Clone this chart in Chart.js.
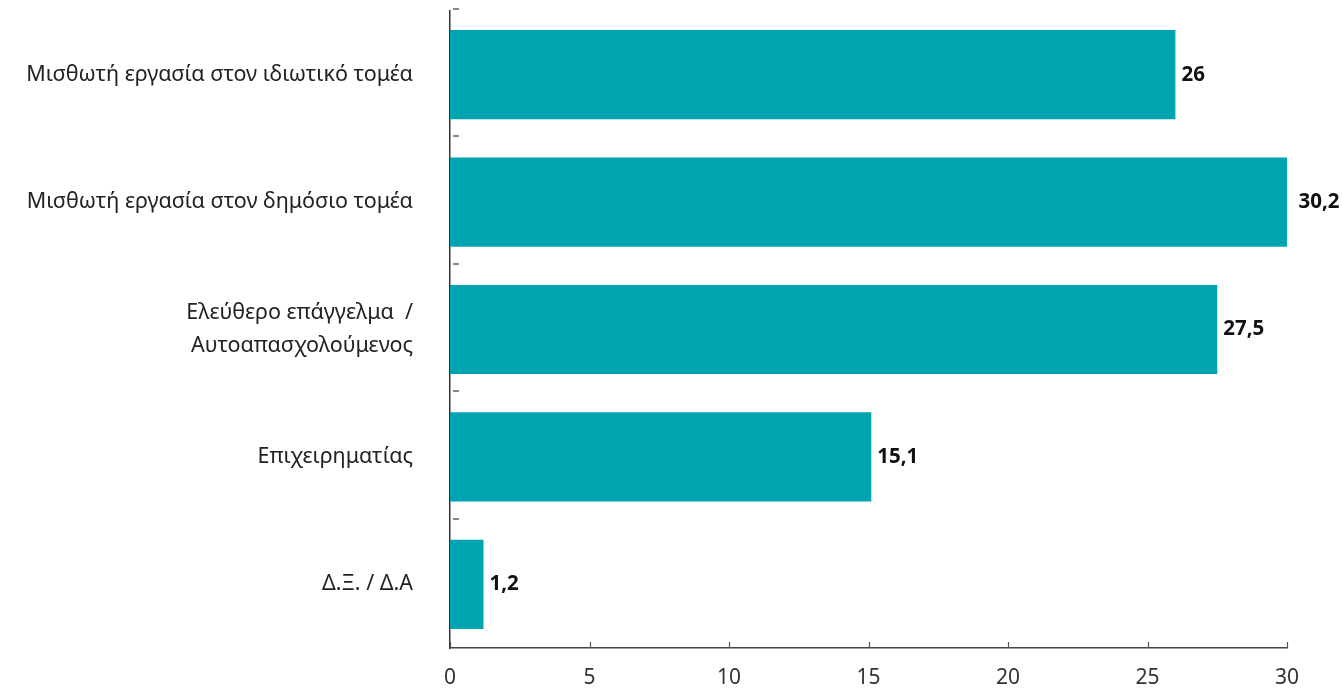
<!DOCTYPE html>
<html>
<head>
<meta charset="utf-8">
<script src="https://cdn.jsdelivr.net/npm/chart.js@4.4.1/dist/chart.umd.min.js"></script>
<style>
  html, body { margin: 0; padding: 0; background: #fff; }
  #wrap { width: 1342px; height: 693px; }
</style>
</head>
<body>
<div id="wrap"><canvas id="myChart" width="1342" height="693"></canvas></div>
<script>
// Employment type shares (%)
const categories = [
  'Μισθωτή εργασία στον ιδιωτικό τομέα',
  'Μισθωτή εργασία στον δημόσιο τομέα',
  ['Ελεύθερο επάγγελμα  /', 'Αυτοαπασχολούμενος'],
  'Επιχειρηματίας',
  'Δ.Ξ. / Δ.Α'
];
const values = [26, 30.2, 27.5, 15.1, 1.2];
const xTicks = [0, 5, 10, 15, 20, 25, 30];

const fontFamily = '"Noto Sans", sans-serif';

// small inside ticks on both axes + value labels at bar ends
const axisMarks = {
  id: 'axisMarks',
  afterDraw(chart) {
    const c = chart.ctx;
    const x = chart.scales.x, y = chart.scales.y;
    const area = chart.chartArea;
    c.save();
    c.strokeStyle = '#555';
    c.lineWidth = 1.2;
    xTicks.forEach(v => {
      const px = Math.round(x.getPixelForValue(v)) + 0.5;
      c.beginPath();
      c.moveTo(px, area.bottom);
      c.lineTo(px, area.bottom - 6);
      c.stroke();
    });
    c.strokeStyle = '#888';
    c.lineWidth = 2;
    for (let i = 0; i < categories.length; i++) {
      const py = Math.round(y.getPixelForValue(i - 0.5)) - 2;
      c.beginPath();
      c.moveTo(area.left + 3, py);
      c.lineTo(area.left + 9, py);
      c.stroke();
    }
    // value labels
    c.fillStyle = '#111';
    c.font = 'bold 20.5px ' + fontFamily;
    c.textBaseline = 'middle';
    c.textAlign = 'left';
    const meta = chart.getDatasetMeta(0);
    meta.data.forEach((bar, i) => {
      const txt = String(values[i]).replace('.', ',');
      c.fillText(txt, bar.x + 6, bar.y);
    });
    c.restore();
  }
};

new Chart(document.getElementById('myChart'), {
  type: 'bar',
  data: {
    labels: categories,
    datasets: [{
      data: values,
      backgroundColor: '#00A4B1',
      borderWidth: 0,
      categoryPercentage: 1,
      barPercentage: 0.7
    }]
  },
  options: {
    indexAxis: 'y',
    responsive: false,
    animation: false,
    layout: { padding: { top: 11, right: 55, bottom: 0, left: 0 } },
    plugins: {
      legend: { display: false },
      tooltip: { enabled: false }
    },
    scales: {
      x: {
        min: 0,
        max: 30,
        afterFit(s) {
          s.height = 45;
          s.paddingLeft = 0; s.paddingRight = 0;
          s.paddingTop = 0; s.paddingBottom = 0;
        },
        afterBuildTicks(s) { s.ticks = xTicks.map(v => ({ value: v })); },
        border: { display: true, color: '#444', width: 1.5 },
        grid: { display: false },
        ticks: {
          color: '#333',
          padding: 9,
          font: { family: fontFamily, size: 21 }
        }
      },
      y: {
        afterFit(s) {
          s.width = 450;
          s.paddingLeft = 0; s.paddingRight = 0;
          s.paddingTop = 0; s.paddingBottom = 0;
        },
        border: { display: true, color: '#333', width: 1.5 },
        grid: { display: false },
        ticks: {
          color: '#222',
          padding: 29,
          font: { family: fontFamily, size: 21.5, lineHeight: 1.55 }
        }
      }
    }
  },
  plugins: [axisMarks]
});
</script>
</body>
</html>
